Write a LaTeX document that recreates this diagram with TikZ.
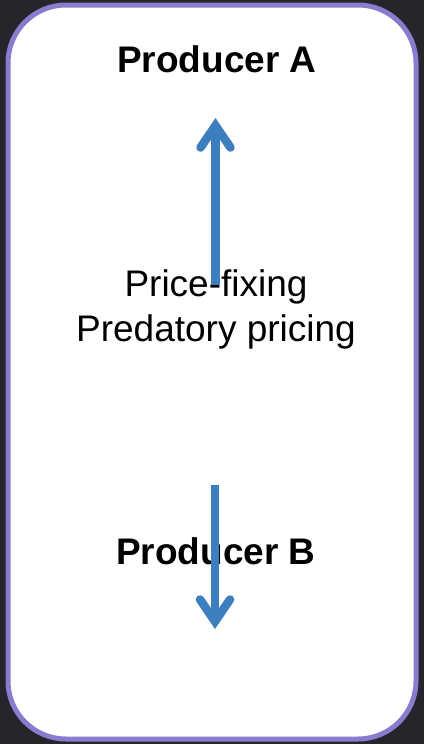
\documentclass[tikz,border=0pt]{standalone}
\usepackage{fontspec}
\setmainfont{Liberation Sans}
\usetikzlibrary{arrows.meta}
\definecolor{bgdark}{RGB}{38,37,43}
\definecolor{panelborder}{RGB}{136,124,206}
\definecolor{arrowblue}{RGB}{61,126,190}
\tikzset{
  panel/.style={draw=panelborder, line width=5pt, fill=white, rounded corners=58pt},
  titletext/.style={font=\fontsize{37}{44}\selectfont\bfseries, inner sep=0pt},
  bodytext/.style={font=\fontsize{37}{45}\selectfont, align=center, inner sep=0pt},
  bluearrow/.style={draw=arrowblue, line width=8.5pt,
    -{Straight Barb[length=22pt,width=30pt,line cap=round,line join=miter]}}
}
\begin{document}
\begin{tikzpicture}[x=1pt,y=-1pt]
  \fill[bgdark] (0,0) rectangle (424,744);
  \useasboundingbox (0,0) rectangle (424,744);
  \draw[panel] (8,5) rectangle (416,739);
  \node[titletext] (pa) at (217,59) {Producer A};
  \node[bodytext] (mid) at (216,309) {Price-fixing\\Predatory pricing};
  \node[titletext] (pb) at (216,551) {Producer B};
  \coordinate (upstart) at (215.5,285);
  \coordinate (upend) at (215.5,118);
  \coordinate (downstart) at (215,485);
  \coordinate (downend) at (215,629);
  \draw[bluearrow] (upstart) -- (upend);
  \draw[bluearrow] (downstart) -- (downend);
\end{tikzpicture}
\end{document}
